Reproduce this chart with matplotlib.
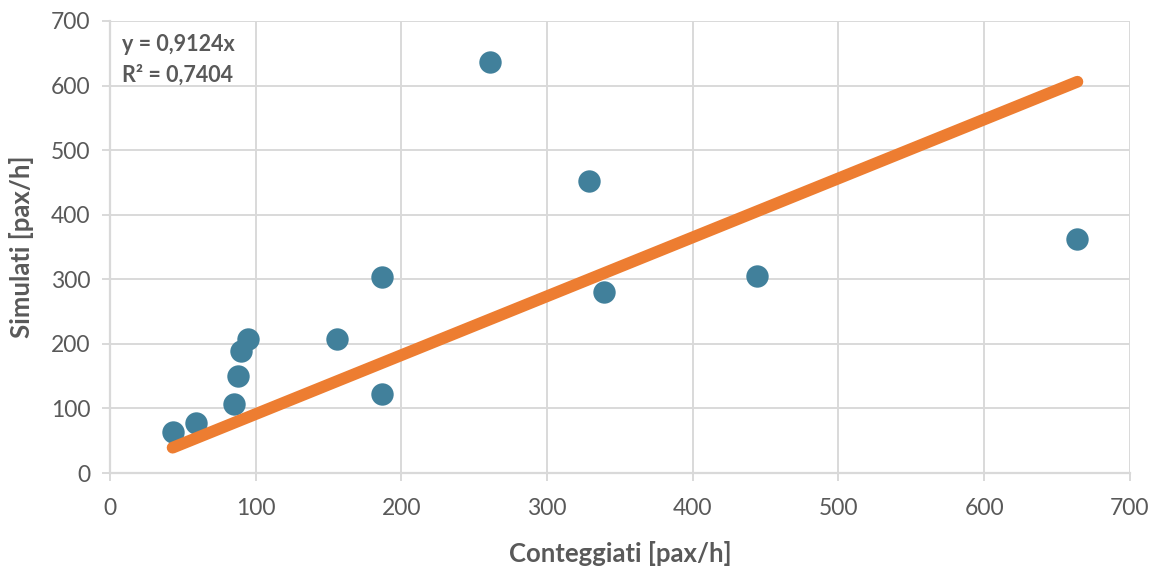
import matplotlib
matplotlib.use("Agg")
import matplotlib.pyplot as plt
import numpy as np

plt.rcParams['font.family'] = ['Lato', 'DejaVu Sans']

# Conteggiati vs simulati passenger flows
conteggiati = [43, 59, 85, 88, 90, 95, 156, 187, 187, 261, 329, 339, 444, 664]
simulati = [64, 77, 107, 150, 189, 208, 207, 303, 123, 637, 452, 281, 305, 362]

slope = 0.9124
r2 = 0.7404

x_ticks = [0, 100, 200, 300, 400, 500, 600, 700]
y_ticks = [0, 100, 200, 300, 400, 500, 600, 700]

grey = '#595959'
grid_c = '#d9d9d9'

fig = plt.figure(figsize=(11.6, 5.66), dpi=100)
ax = fig.add_axes([0.0948, 0.1643, 0.974 - 0.0948, 0.963 - 0.1643])

ax.set_xlim(0, 700)
ax.set_ylim(0, 700)
ax.set_xticks(x_ticks)
ax.set_yticks(y_ticks)
ax.grid(True, color=grid_c, linewidth=1.4)
ax.set_axisbelow(True)

for side in ['top', 'right']:
    ax.spines[side].set_visible(False)
for side in ['left', 'bottom']:
    ax.spines[side].set_color(grid_c)
    ax.spines[side].set_linewidth(1.6)

ax.tick_params(axis='both', colors=grid_c, length=6, width=1.4,
               labelcolor=grey, labelsize=16.5)
ax.tick_params(axis='x', pad=12)
ax.tick_params(axis='y', pad=8)

ax.scatter(conteggiati, simulati, s=260, color='#41809B', zorder=3,
           linewidths=0)

xs = np.array([min(conteggiati), max(conteggiati)])
ax.plot(xs, slope * xs, color='#ED7D31', linewidth=8.5,
        solid_capstyle='round', zorder=4)

ax.text(8, 663, f"y = {slope:.4f}x".replace('.', ','), color=grey,
        fontsize=15.5, fontweight='bold', va='center', ha='left')
ax.text(8, 616, f"R² = {r2:.4f}".replace('.', ','), color=grey,
        fontsize=15.5, fontweight='bold', va='center', ha='left')

ax.set_xlabel('Conteggiati [pax/h]', color=grey, fontsize=18.5,
              fontweight='bold', labelpad=16)
ax.set_ylabel('Simulati [pax/h]', color=grey, fontsize=18.5,
              fontweight='bold', labelpad=12)

fig.savefig('out.png', dpi=100)
